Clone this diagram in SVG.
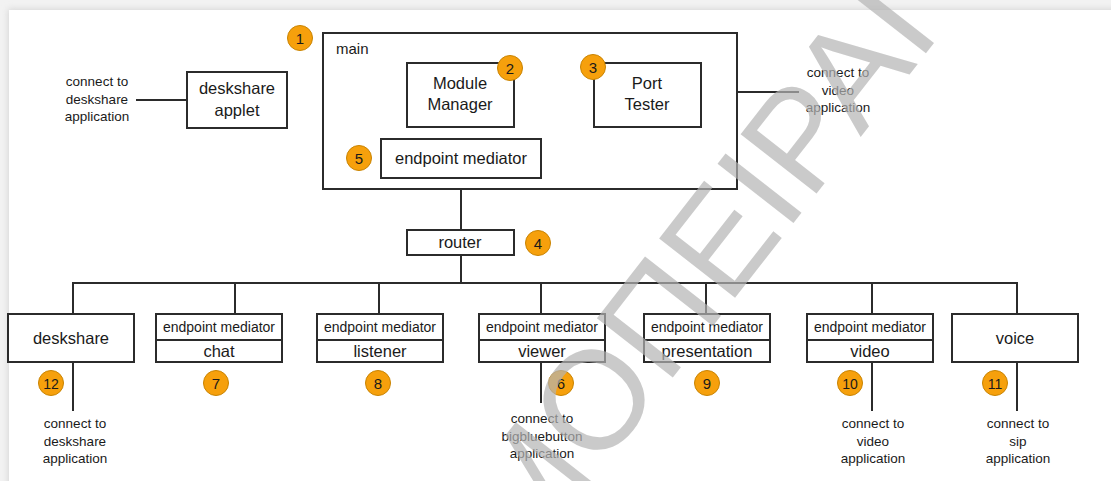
<svg xmlns="http://www.w3.org/2000/svg" width="1111" height="481" viewBox="0 0 1111 481">
  <style>
    .box { fill: #ffffff; stroke: #2b2b2b; stroke-width: 2; }
    .wire { fill: none; stroke: #2b2b2b; stroke-width: 2; }
    .lbl { font-family: "Liberation Sans", Arial, sans-serif; fill: #1a1a1a; text-anchor: middle; }
    .big { font-size: 16.5px; }
    .med { font-size: 14px; }
    .note { font-family: "Liberation Sans", Arial, sans-serif; font-size: 13.5px; fill: #1a1a1a; text-anchor: middle; }
    .badge circle { fill: #f6a00c; stroke: #c98300; stroke-width: 1; }
    .badge text { font-family: "Liberation Sans", Arial, sans-serif; font-size: 15px; fill: #1a1a1a; text-anchor: middle; }
    .mark { font-family: "Liberation Sans", Arial, sans-serif; font-size: 140px; fill: #b4b4b4; fill-opacity: 0.7; }
  </style>
  <defs>
    <filter id="cardShadow" x="-5%" y="-5%" width="110%" height="110%">
      <feGaussianBlur stdDeviation="3"/>
    </filter>
  </defs>

  <!-- page and card -->
  <rect x="0" y="0" width="1111" height="481" fill="#f2f2f2"/>
  <rect x="8" y="9" width="1110" height="480" fill="#d6d6d6" filter="url(#cardShadow)"/>
  <rect x="9" y="10" width="1102" height="471" fill="#ffffff"/>

  <!-- connectors -->
  <g id="connectors" class="wire">
    <line x1="136" y1="100" x2="187" y2="100"/>
    <line x1="701" y1="92" x2="799" y2="92"/>
    <line x1="461" y1="189" x2="461" y2="230"/>
    <line x1="461" y1="255" x2="461" y2="283"/>
    <line x1="72" y1="283" x2="1018" y2="283"/>
    <line x1="73" y1="283" x2="73" y2="314"/>
    <line x1="235" y1="283" x2="235" y2="314"/>
    <line x1="379" y1="283" x2="379" y2="314"/>
    <line x1="541" y1="283" x2="541" y2="314"/>
    <line x1="706" y1="283" x2="706" y2="314"/>
    <line x1="872" y1="283" x2="872" y2="314"/>
    <line x1="1017" y1="283" x2="1017" y2="314"/>
    <line x1="73" y1="362" x2="73" y2="411"/>
    <line x1="541" y1="362" x2="541" y2="403"/>
    <line x1="872" y1="362" x2="872" y2="411"/>
    <line x1="1017" y1="362" x2="1017" y2="411"/>
  </g>

  <!-- main container -->
  <g id="main">
    <rect class="box" x="323" y="33" width="414" height="156"/>
    <text class="lbl" x="336" y="54" style="text-anchor:start;font-size:15px">main</text>
  </g>

  <g id="module-manager">
    <rect class="box" x="407" y="63" width="107" height="64"/>
    <text class="lbl big" x="460" y="89">Module</text>
    <text class="lbl big" x="460" y="110">Manager</text>
  </g>

  <g id="port-tester">
    <rect class="box" x="594" y="63" width="107" height="64"/>
    <text class="lbl big" x="647" y="89">Port</text>
    <text class="lbl big" x="647" y="110">Tester</text>
  </g>

  <g id="main-endpoint-mediator">
    <rect class="box" x="381" y="139" width="160" height="39"/>
    <text class="lbl big" x="461" y="164">endpoint mediator</text>
  </g>

  <g id="deskshare-applet">
    <rect class="box" x="187" y="72" width="100" height="56"/>
    <text class="lbl big" x="237" y="94">deskshare</text>
    <text class="lbl big" x="237" y="116">applet</text>
  </g>

  <g id="router">
    <rect class="box" x="407" y="230" width="107" height="25"/>
    <text class="lbl big" x="460" y="248">router</text>
  </g>

  <!-- module row -->
  <g id="deskshare">
    <rect class="box" x="8" y="314" width="126" height="48"/>
    <text class="lbl big" x="71" y="344">deskshare</text>
  </g>

  <g id="chat">
    <rect class="box" x="156" y="314" width="126" height="48"/>
    <line class="wire" x1="156" y1="340" x2="282" y2="340"/>
    <text class="lbl med" x="219" y="332">endpoint mediator</text>
    <text class="lbl big" x="219" y="357">chat</text>
  </g>

  <g id="listener">
    <rect class="box" x="317" y="314" width="126" height="48"/>
    <line class="wire" x1="317" y1="340" x2="443" y2="340"/>
    <text class="lbl med" x="380" y="332">endpoint mediator</text>
    <text class="lbl big" x="380" y="357">listener</text>
  </g>

  <g id="viewer">
    <rect class="box" x="479" y="314" width="126" height="48"/>
    <line class="wire" x1="479" y1="340" x2="605" y2="340"/>
    <text class="lbl med" x="542" y="332">endpoint mediator</text>
    <text class="lbl big" x="542" y="357">viewer</text>
  </g>

  <g id="presentation">
    <rect class="box" x="644" y="314" width="126" height="48"/>
    <line class="wire" x1="644" y1="340" x2="770" y2="340"/>
    <text class="lbl med" x="707" y="332">endpoint mediator</text>
    <text class="lbl big" x="707" y="357">presentation</text>
  </g>

  <g id="video">
    <rect class="box" x="807" y="314" width="126" height="48"/>
    <line class="wire" x1="807" y1="340" x2="933" y2="340"/>
    <text class="lbl med" x="870" y="332">endpoint mediator</text>
    <text class="lbl big" x="870" y="357">video</text>
  </g>

  <g id="voice">
    <rect class="box" x="952" y="314" width="126" height="48"/>
    <text class="lbl big" x="1015" y="344">voice</text>
  </g>

  <!-- external endpoints -->
  <g id="note-deskshare-applet">
    <text class="note" x="97" y="86">connect to</text>
    <text class="note" x="97" y="104">deskshare</text>
    <text class="note" x="97" y="121">application</text>
  </g>
  <g id="note-port-tester">
    <text class="note" x="838" y="77">connect to</text>
    <text class="note" x="838" y="95">video</text>
    <text class="note" x="838" y="112">application</text>
  </g>
  <g id="note-deskshare">
    <text class="note" x="75" y="428">connect to</text>
    <text class="note" x="75" y="446">deskshare</text>
    <text class="note" x="75" y="463">application</text>
  </g>
  <g id="note-viewer">
    <text class="note" x="542" y="423">connect to</text>
    <text class="note" x="542" y="441">bigbluebutton</text>
    <text class="note" x="542" y="458">application</text>
  </g>
  <g id="note-video">
    <text class="note" x="873" y="428">connect to</text>
    <text class="note" x="873" y="446">video</text>
    <text class="note" x="873" y="463">application</text>
  </g>
  <g id="note-voice">
    <text class="note" x="1018" y="428">connect to</text>
    <text class="note" x="1018" y="446">sip</text>
    <text class="note" x="1018" y="463">application</text>
  </g>

  <!-- numbered badges -->
  <g id="badges" class="badge">
    <g id="b1"><circle cx="300" cy="38" r="12.5"/><text x="300" y="43.5">1</text></g>
    <g id="b2"><circle cx="510" cy="68" r="12.5"/><text x="510" y="73.5">2</text></g>
    <g id="b3"><circle cx="593" cy="67" r="12.5"/><text x="593" y="72.5">3</text></g>
    <g id="b4"><circle cx="538" cy="243" r="12.5"/><text x="538" y="248.5">4</text></g>
    <g id="b5"><circle cx="359" cy="158" r="12.5"/><text x="359" y="163.5">5</text></g>
    <g id="b6"><circle cx="561" cy="383" r="12.5"/><text x="561" y="388.5">6</text></g>
    <g id="b7"><circle cx="216" cy="383" r="12.5"/><text x="216" y="388.5">7</text></g>
    <g id="b8"><circle cx="378" cy="383" r="12.5"/><text x="378" y="388.5">8</text></g>
    <g id="b9"><circle cx="707" cy="383" r="12.5"/><text x="707" y="388.5">9</text></g>
    <g id="b10"><circle cx="850" cy="383" r="12.5"/><text x="850" y="388.5" style="font-size:14px">10</text></g>
    <g id="b11"><circle cx="995" cy="383" r="12.5"/><text x="995" y="388.5" style="font-size:14px">11</text></g>
    <g id="b12"><circle cx="51" cy="383" r="12.5"/><text x="51" y="388.5" style="font-size:14px">12</text></g>
  </g>

  <!-- diagonal watermark -->
  <g id="watermark" transform="translate(592,398) rotate(-52)">
    <text class="mark" x="-171" y="51">ΜΟΠΕΙΡΑΙ</text>
  </g>
</svg>
